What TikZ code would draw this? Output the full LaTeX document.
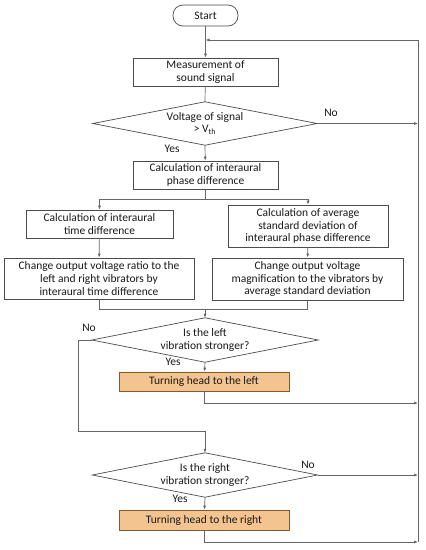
\documentclass[tikz,border=0pt]{standalone}
\usepackage{fontspec}
\setmainfont{Carlito}
\usetikzlibrary{arrows.meta,calc}
\begin{document}
\begin{tikzpicture}[x=1pt,y=-1pt,
  line/.style={draw=black!60, line width=0.7pt},
  arr/.style={line, -{Latex[length=4pt,width=3pt]}},
  box/.style={draw=black!70, line width=0.7pt, fill=white, align=center, inner sep=1pt, font=\fontsize{11.5}{12.8}\selectfont, text=black!90},
  hot/.style={box, draw=brown!70!black, fill={rgb,255:red,244;green,196;blue,144}},
  dtext/.style={align=center, inner sep=0pt, font=\fontsize{11.5}{12.8}\selectfont, text=black!90},
  lab/.style={font=\fontsize{11.5}{12}\selectfont, text=black!90, inner sep=0pt}
]
\useasboundingbox (0,0) rectangle (426,550);
\fill[white] (0,0) rectangle (426,550);

\node[box, rounded corners=10pt, minimum width=65pt, minimum height=21pt] (start) at (205.5,15.5) {Start};
\node[box, minimum width=145pt, minimum height=28pt] (meas) at (205.5,72) {Measurement of\\sound signal};
\node[dtext, minimum width=224pt, minimum height=43pt] (d1) at (205,123.5) {Voltage of signal\\> V\textsubscript{th}};
\draw[line, draw=black!70] (d1.north) -- (d1.east) -- (d1.south) -- (d1.west) -- cycle;
\node[box, minimum width=145pt, minimum height=28pt] (ipd) at (205.5,175) {Calculation of interaural\\phase difference};
\node[box, minimum width=147pt, minimum height=28pt] (L1) at (99.5,224) {Calculation of interaural\\time difference};
\node[box, minimum width=160pt, minimum height=42pt] (R1) at (308,226) {Calculation of average\\standard deviation of\\interaural phase difference};
\node[box, minimum width=190pt, minimum height=41pt] (L2) at (99,278.5) {Change output voltage ratio to the\\left and right vibrators by\\interaural time difference};
\node[box, minimum width=191pt, minimum height=42pt] (R2) at (307.5,279) {Change output voltage\\magnification to the vibrators by\\average standard deviation};
\node[dtext, minimum width=226pt, minimum height=44pt] (d2) at (205,340) {Is the left\\vibration stronger?};
\draw[line, draw=black!70] (d2.north) -- (d2.east) -- (d2.south) -- (d2.west) -- cycle;
\node[hot, minimum width=170pt, minimum height=19pt] (TL) at (204,381.5) {Turning head to the left};
\node[dtext, minimum width=225pt, minimum height=44pt] (d3) at (205,475) {Is the right\\vibration stronger?};
\draw[line, draw=black!70] (d3.north) -- (d3.east) -- (d3.south) -- (d3.west) -- cycle;
\node[hot, minimum width=170pt, minimum height=20pt] (TR) at (204,520) {Turning head to the right};

% coordinates
\coordinate (top) at (205.5,40);
\coordinate (rtop) at (418,40);
\coordinate (rbot) at (418,542);
\coordinate (split) at (205.5,199);
\coordinate (merge) at (205,309);
\coordinate (byp) at (78,431);

% connectors
\draw[arr] (start) -- (meas);
\draw[line] (meas) -- (d1.north);
\draw[arr] (d1.south) -- (ipd);
\draw[line] (ipd) -- (split);
\draw[arr] (split) -| (L1.north);
\draw[arr] (split) -| (R1.north);
\draw[arr] (L1) -- (L2);
\draw[arr] (R1) -- (R2);
\draw[line] (L2.south) |- (merge);
\draw[line] (R2.south) |- (merge);
\draw[arr] (merge) -- (d2.north);
\draw[arr] (d2.south) -- (TL);
\draw[line] (d2.west) -| (byp);
\draw[arr] (byp) -| (d3.north);
\draw[arr] (d3.south) -- (TR);

\draw[line] (rbot) -- (rtop);
\draw[arr] (rtop) -- (top);
\draw[arr] (d1.east) -- (d1.east -| rtop);
\draw[arr] (TL.south) |- (418,403);
\draw[arr] (d3.east) -- (d3.east -| rtop);
\draw[arr] (TR.south) |- (rbot);

% labels
\node[lab] at (331,113) {No};
\node[lab] at (172,149) {Yes};
\node[lab] at (89,328) {No};
\node[lab] at (173,362) {Yes};
\node[lab] at (308,465) {No};
\node[lab] at (180,499) {Yes};
\end{tikzpicture}
\end{document}
